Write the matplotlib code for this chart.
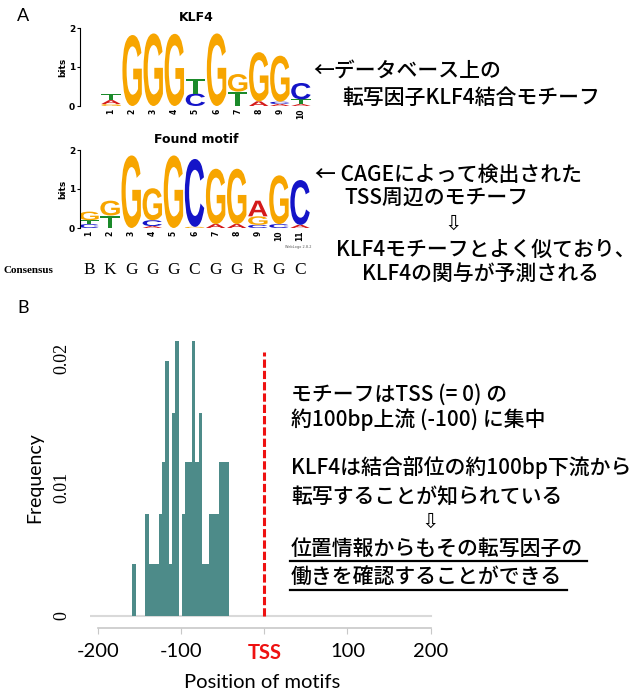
import numpy as np
import matplotlib
matplotlib.use('Agg')
import matplotlib.pyplot as plt
from matplotlib.textpath import TextPath
from matplotlib.font_manager import FontProperties
from matplotlib.patches import PathPatch
from matplotlib.transforms import Affine2D

JP = ['Noto Sans CJK JP', 'DejaVu Sans']

# --- sequence logos: information content (bits) per letter and position ---
klf4_A = [0.10, 0.00, 0.00, 0.00, 0.00, 0.00, 0.00, 0.12, 0.05, 0.05]
klf4_C = [0.00, 0.00, 0.00, 0.00, 0.32, 0.00, 0.00, 0.00, 0.06, 0.42]
klf4_G = [0.05, 1.82, 1.86, 1.85, 0.00, 1.86, 0.45, 1.26, 1.18, 0.00]
klf4_T = [0.15, 0.00, 0.00, 0.00, 0.38, 0.00, 0.37, 0.00, 0.00, 0.12]

found_A = [0.00, 0.00, 0.00, 0.05, 0.00, 0.00, 0.10, 0.10, 0.40, 0.00, 0.08]
found_C = [0.10, 0.00, 0.00, 0.15, 0.00, 1.74, 0.00, 0.00, 0.08, 0.10, 1.15]
found_G = [0.22, 0.38, 1.86, 0.82, 1.86, 0.03, 1.42, 1.42, 0.22, 1.25, 0.00]
found_T = [0.10, 0.32, 0.00, 0.00, 0.00, 0.00, 0.00, 0.00, 0.00, 0.00, 0.00]

consensus = ['B', 'K', 'G', 'G', 'G', 'C', 'G', 'G', 'R', 'G', 'C']

# --- histogram of motif positions relative to TSS ---
hist_edges = [-159, -155, -151, -147, -143, -139, -135, -131, -127, -123,
              -119, -115, -111, -107, -103, -99, -95, -91, -87, -83,
              -79, -75, -71, -67, -63, -59, -55, -51, -47, -43]
hist_freq = [0.0040, 0.0, 0.0, 0.0, 0.0079, 0.0040, 0.0040, 0.0040, 0.0079, 0.0119,
             0.0198, 0.0040, 0.0157, 0.0213, 0.0, 0.0079, 0.0119, 0.0119, 0.0213, 0.0119,
             0.0157, 0.0040, 0.0040, 0.0079, 0.0079, 0.0079, 0.0119, 0.0119, 0.0119]

x_ticks = [-200, -100, 0, 100, 200]
x_ticklabels = ['-200', '-100', 'TSS', '100', '200']
y_ticks = [0, 0.01, 0.02]
y_ticklabels = ['0', '0.01', '0.02']

W, H = 644, 694
fig = plt.figure(figsize=(W / 100, H / 100), dpi=100)


def px_axes(left, top, right, bottom):
    return fig.add_axes([left / W, 1 - bottom / H, (right - left) / W, (bottom - top) / H])


LETTER_COLORS = {'A': '#d41a1a', 'C': '#1414c8', 'G': '#f7a500', 'T': '#1b8a2a'}
letter_font = FontProperties(family='Liberation Sans', weight='bold')


def draw_letter(ax, ch, x, y, w, h):
    tp = TextPath((0, 0), ch, size=1, prop=letter_font)
    bb = tp.get_extents()
    tr = Affine2D().translate(-bb.x0, -bb.y0).scale(w / bb.width, h / bb.height).translate(x - w / 2, y)
    ax.add_patch(PathPatch(tr.transform_path(tp), fc=LETTER_COLORS[ch], ec='none'))


def draw_logo(ax, A, C, G, T, title, xlim):
    n = len(A)
    for i in range(n):
        stack = sorted(zip([A[i], C[i], G[i], T[i]], 'ACGT'))
        y = 0
        for h, ch in stack:
            if h > 0:
                draw_letter(ax, ch, i + 1, y, 0.92, h)
                y += h
    ax.set_xlim(*xlim)
    ax.set_ylim(0, 2)
    for s in ['top', 'right', 'bottom']:
        ax.spines[s].set_visible(False)
    ax.spines['left'].set_linewidth(0.8)
    ax.set_yticks([0, 1, 2])
    ax.set_yticklabels(['0', '1', '2'], fontsize=6.5, fontweight='bold')
    ax.tick_params(axis='y', length=2.5, width=0.8, pad=1)
    ax.set_xticks(range(1, n + 1))
    ax.set_xticklabels([str(i) for i in range(1, n + 1)], rotation=90, fontsize=5.5, fontweight='bold')
    ax.tick_params(axis='x', length=0, pad=2)
    ax.set_ylabel('bits', fontsize=6.5, fontweight='bold', labelpad=1)
    ax.set_title(title, fontsize=9, fontweight='bold', pad=5)


ax1 = px_axes(80, 28, 313.6, 106)
draw_logo(ax1, klf4_A, klf4_C, klf4_G, klf4_T, 'KLF4', (-0.47, 10.6))

ax2 = px_axes(80, 150, 312.7, 228)
draw_logo(ax2, found_A, found_C, found_G, found_T, 'Found motif', (0.574, 11.6))

# histogram panel
axh = px_axes(89.8, 333.5, 434.7, 627.6)
axh.plot([-210, 200], [0, 0], color='#d9d9d9', lw=1.5, zorder=1)
axh.stairs(hist_freq, hist_edges, fill=True, color='#4d8b89', zorder=2)
axh.plot([0, 0], [0, 0.0205], color='#ee1111', lw=2.2, ls=(0, (2.7, 1.0)), zorder=3)
axh.set_xlim(-210, 205)
axh.set_ylim(-0.0009, 0.0219)
for s in ['top', 'right', 'left']:
    axh.spines[s].set_visible(False)
axh.spines['bottom'].set_bounds(-200, 200)
axh.spines['bottom'].set_color('#c8c8c8')
axh.spines['bottom'].set_linewidth(1.2)
axh.set_xticks(x_ticks)
axh.set_xticklabels(x_ticklabels, fontsize=14.5, family='Lato')
axh.tick_params(axis='x', length=4, color='#c8c8c8', pad=7)
lab = axh.get_xticklabels()[2]
lab.set_color('#ee1111')
lab.set_fontweight('bold')
axh.set_yticks(y_ticks)
axh.set_yticklabels(y_ticklabels, rotation=90, va='center', fontsize=13, family='Liberation Serif')
axh.tick_params(axis='y', length=0, pad=14)

# overlay for free text, in pixel coordinates
ov = fig.add_axes([0, 0, 1, 1])
ov.set_xlim(0, W)
ov.set_ylim(H, 0)
ov.axis('off')

ov.text(23, 16, 'A', fontsize=13, family='Lato', va='center', ha='center')
ov.text(23, 308, 'B', fontsize=13, family='Lato', va='center', ha='center')
ov.text(312, 247, 'WebLogo 2.8.2', fontsize=2.5, color='#555555', ha='right', va='center')

ov.text(4, 270, 'Consensus', fontsize=8, family='Liberation Serif', fontweight='bold', va='center')
for i, ch in enumerate(consensus):
    ov.text(89 + 21.1 * i, 270, ch, fontsize=12.5, family='Liberation Serif', va='center', ha='center')

fs = 15
wt = 'medium'
ov.text(313, 72, '←データベース上の', fontsize=fs, family=JP, weight=wt, va='center')
ov.text(342, 98, '転写因子KLF4結合モチーフ', fontsize=fs, family=JP, weight=wt, va='center')
ov.text(315, 175, '← CAGEによって検出された', fontsize=fs, family=JP, weight=wt, va='center')
ov.text(344, 199, 'TSS周辺のモチーフ', fontsize=fs, family=JP, weight=wt, va='center')
ov.text(453, 224, '⇩', fontsize=fs, family=['DejaVu Sans'], va='center', ha='center')
ov.text(336, 250, 'KLF4モチーフとよく似ており、', fontsize=fs, family=JP, weight=wt, va='center')
ov.text(362, 274, 'KLF4の関与が予測される', fontsize=fs, family=JP, weight=wt, va='center')

ov.text(291, 395, 'モチーフはTSS (= 0) の', fontsize=fs, family=JP, weight=wt, va='center')
ov.text(291, 420, '約100bp上流 (-100) に集中', fontsize=fs, family=JP, weight=wt, va='center')
ov.text(291, 468, 'KLF4は結合部位の約100bp下流から', fontsize=fs, family=JP, weight=wt, va='center')
ov.text(291, 497, '転写することが知られている', fontsize=fs, family=JP, weight=wt, va='center')
ov.text(430, 522, '⇩', fontsize=fs, family=['DejaVu Sans'], va='center', ha='center')
ov.text(291, 549, '位置情報からもその転写因子の', fontsize=fs, family=JP, weight=wt, va='center')
ov.text(291, 577, '働きを確認することができる', fontsize=fs, family=JP, weight=wt, va='center')
ov.plot([290, 587], [561, 561], color='black', lw=1.6)
ov.plot([290, 567], [590, 590], color='black', lw=1.6)

ov.text(35, 478, 'Frequency', fontsize=14, family='Lato', rotation=90, va='center', ha='center')
ov.text(262, 682, 'Position of motifs', fontsize=14.5, family='Lato', va='center', ha='center')

fig.savefig('out.png', dpi=100)
